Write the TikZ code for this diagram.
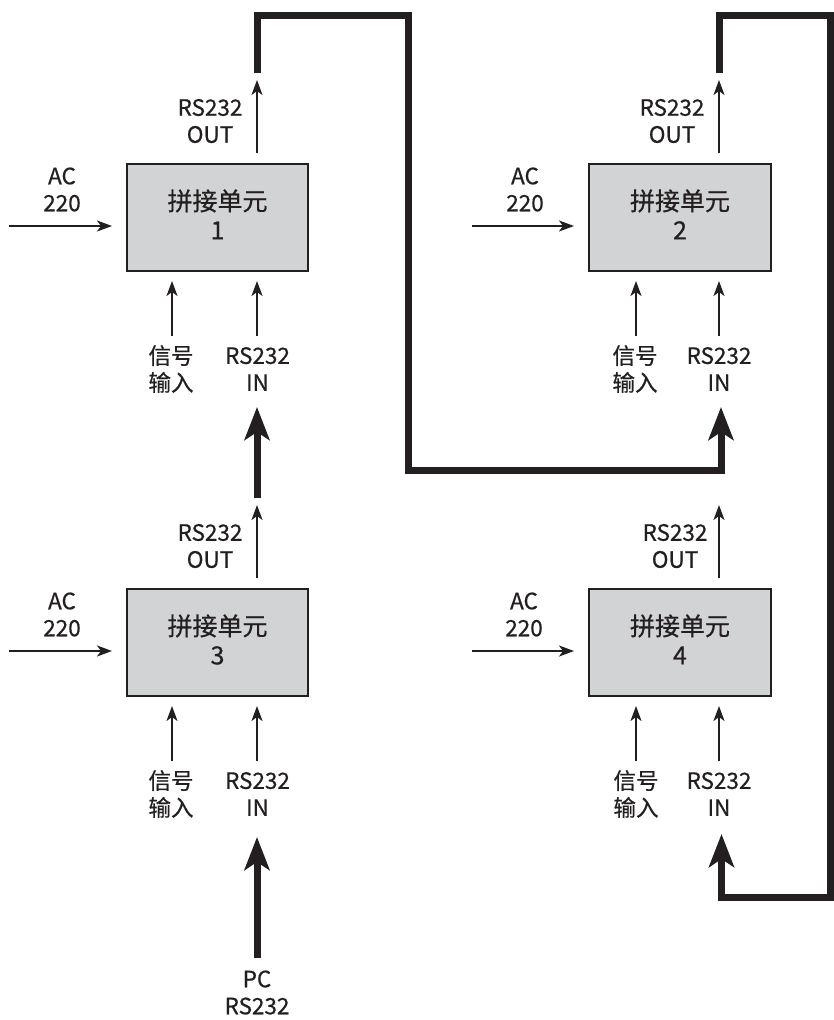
\documentclass[tikz,border=0pt]{standalone}
\usepackage{fontspec}
\setmainfont{Noto Sans CJK SC}
\newfontfamily\diagfont{Noto Sans CJK SC}[FakeBold=0.6]
\usetikzlibrary{arrows.meta}
\definecolor{ink}{HTML}{231F20}
\definecolor{boxfill}{HTML}{D1D3D4}
\newcommand{\unittext}[1]{拼接单元\\#1\vphantom{g}}
\begin{document}
\begin{tikzpicture}[x=1pt,y=-1pt,
  unit/.style={draw=ink, line width=2pt, fill=boxfill, minimum width=181pt, minimum height=107pt, inner sep=0pt, align=center, font=\diagfont\fontsize{25}{29}\selectfont, text=ink},
  lbl/.style={inner sep=0pt, align=center, font=\diagfont\fontsize{22.5}{27}\selectfont, text=ink},
  thinarr/.style={draw=ink, line width=1.6pt, -{Stealth[length=15pt,width=11pt,inset=4pt]}},
  thickarr/.style={draw=ink, line width=7pt, -{Stealth[length=33pt,width=25pt,inset=8pt]}},
]
\useasboundingbox (0,0) rectangle (834,1020);

% units
\node[unit] (b1) at (217.5,217.5) {\unittext{1}};
\node[unit, minimum width=182pt] (b2) at (680,217.5) {\unittext{2}};
\node[unit] (b3) at (217.5,642.5) {\unittext{3}};
\node[unit, minimum width=182pt] (b4) at (680,642.5) {\unittext{4}};

% labels
\node[lbl] (ac1) at (62,189.5) {AC\\220};
\node[lbl] (ol1) at (210,121) {RS232\\OUT};
\node[lbl] (sl1) at (171,369) {信号\\输入};
\node[lbl] (il1) at (257.5,369) {RS232\\IN};

\node[lbl] (ac2) at (525,189.5) {AC\\220};
\node[lbl] (ol2) at (672,121) {RS232\\OUT};
\node[lbl] (sl2) at (635,369) {信号\\输入};
\node[lbl] (il2) at (719,369) {RS232\\IN};

\node[lbl] (ac3) at (62,614.5) {AC\\220};
\node[lbl] (ol3) at (210,546) {RS232\\OUT};
\node[lbl] (sl3) at (171,794) {信号\\输入};
\node[lbl] (il3) at (257.5,794) {RS232\\IN};

\node[lbl] (ac4) at (524,614.5) {AC\\220};
\node[lbl] (ol4) at (675,546) {RS232\\OUT};
\node[lbl] (sl4) at (636,794) {信号\\输入};
\node[lbl] (il4) at (719,794) {RS232\\IN};

\node[lbl] (pc) at (257,992.5) {PC\\RS232};

% free ends
\coordinate (a1) at (9,226);   \coordinate (a2) at (472,226);
\coordinate (a3) at (9,651);   \coordinate (a4) at (472,651);
\coordinate (o1) at (257,80);  \coordinate (o2) at (719,80);
\coordinate (o3) at (257,505); \coordinate (o4) at (719,505);
\coordinate (s1) at (172,336); \coordinate (r1) at (257,336);
\coordinate (s2) at (636,336); \coordinate (r2) at (719,336);
\coordinate (s3) at (172,761); \coordinate (r3) at (257,761);
\coordinate (s4) at (636,761); \coordinate (r4) at (719,761);

% thin arrows
\foreach \i in {1,2,3,4}{
  \draw[thinarr, shorten >=14pt] (a\i) -- (a\i -| b\i.west);
  \draw[thinarr, shorten <=10pt] (o\i |- b\i.north) -- (o\i);
  \draw[thinarr, shorten >=9pt] (s\i) -- (s\i |- b\i.south);
  \draw[thinarr, shorten >=9pt] (r\i) -- (r\i |- b\i.south);
}

% thick RS232 chain
\coordinate (t1) at (257,73);
\coordinate (h1) at (721,407);
\draw[thickarr] (t1) -- (257,15) -- (408.5,15) -- (408.5,470) -- (721,470) -- (h1);

\coordinate (t3) at (257,498);
\coordinate (h3) at (257,407);
\draw[thickarr] (t3) -- (h3);

\coordinate (t2) at (719.5,73);
\coordinate (h4) at (721.5,834);
\draw[thickarr] (t2) -- (719.5,15) -- (830,15) -- (830,897) -- (721.5,897) -- (h4);

\coordinate (tp) at (257,958);
\coordinate (hp) at (257,837);
\draw[thickarr] (tp) -- (hp);
\end{tikzpicture}
\end{document}
